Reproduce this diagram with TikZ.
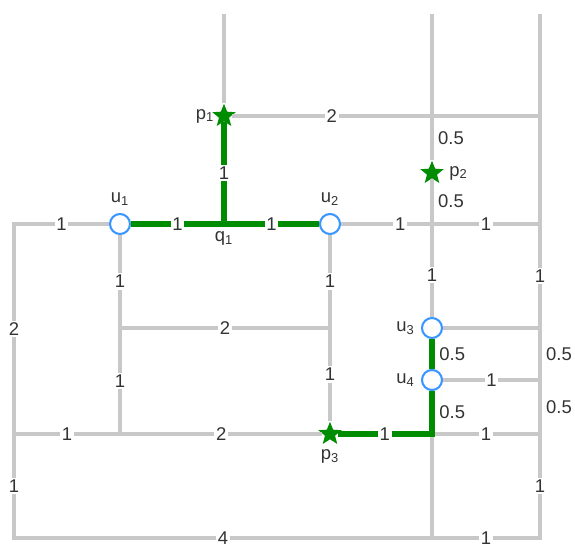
\documentclass[tikz,border=0pt]{standalone}
\usepackage{fontspec}
\setmainfont{Liberation Sans}
\definecolor{edgegray}{RGB}{200,200,200}
\definecolor{treegreen}{RGB}{0,140,0}
\definecolor{termblue}{RGB}{60,150,255}
\usetikzlibrary{shapes.geometric}

\begin{document}
\begin{tikzpicture}[x=0.2mm, y=-0.2mm, font=\fontsize{10.5}{12}\selectfont,
    edge/.style={draw=edgegray, line width=2pt},
    treeedge/.style={draw=treegreen, line width=3.4pt},
    wlabel/.style={midway, fill=white, inner sep=1pt, text=black!80},
    rlabel/.style={midway, right, inner sep=2.5pt, text=black!80},
    terminal/.style={circle, draw=termblue, fill=white, line width=1.2pt,
        minimum size=4mm, inner sep=0pt},
    steiner/.style={star, star points=5, star point ratio=2.3, fill=treegreen,
        minimum size=4.9mm, inner sep=0pt},
    nlabel/.style={text=black!80}]
    \useasboundingbox (0,0) rectangle (575,545);

    % Terminals and Steiner points
    \node[terminal, label={[nlabel, label distance=0.5pt]above:u\textsubscript{1}}] (u1) at (120,224) {};
    \node[terminal, label={[nlabel, label distance=0.5pt]above:u\textsubscript{2}}] (u2) at (330,224) {};
    \node[terminal, label={[nlabel]left:u\textsubscript{3}}] (u3) at (432,328) {};
    \node[terminal, label={[nlabel]left:u\textsubscript{4}}] (u4) at (432,380) {};
    \node[steiner, label={[nlabel, inner sep=1pt]left:p\textsubscript{1}}] (p1) at (224,116) {};
    \node[steiner, label={[nlabel, label distance=2pt]right:p\textsubscript{2}}] (p2) at (432,173) {};
    \node[steiner, label={[nlabel, label distance=2pt]below:p\textsubscript{3}}] (p3) at (330,434) {};
    \coordinate[label={[nlabel, label distance=1pt]below:q\textsubscript{1}}] (q1) at (224,224);

    % Grid junctions
    \coordinate (t1) at (224,14);
    \coordinate (t2) at (432,14);
    \coordinate (t3) at (540,14);
    \coordinate (a2) at (432,116);
    \coordinate (a3) at (540,116);
    \coordinate (b0) at (14,224);
    \coordinate (b3) at (432,224);
    \coordinate (b4) at (540,224);
    \coordinate (c1) at (120,328);
    \coordinate (c2) at (330,328);
    \coordinate (c4) at (540,328);
    \coordinate (d4) at (540,380);
    \coordinate (e0) at (14,434);
    \coordinate (e1) at (120,434);
    \coordinate (e3) at (432,434);
    \coordinate (e4) at (540,434);
    \coordinate (f0) at (14,538);
    \coordinate (f3) at (432,538);
    \coordinate (f4) at (540,538);

    % Unlabelled grid edges
    \foreach \a/\b in {t1/p1, t2/a2, t3/a3, a3/b4, a2/a3, u3/c4, e3/f3}
        \draw[edge] (\a) -- (\b);

    % Weighted grid edges
    \foreach \a/\b/\w in {p1/a2/2, b3/b4/1, b4/c4/1, u1/c1/1, c1/e1/1,
        c1/c2/2, u2/c2/1, c2/p3/1, u4/d4/1, e0/e1/1, e1/p3/2, e3/e4/1}
        \draw[edge] (\a) -- (\b) node[wlabel] {\w};
    \draw[edge] (u2) -- (b3) node[wlabel, pos=0.65] {1};
    \draw[edge] (b3) -- (u3) node[wlabel, pos=0.55] {1};

    % Outer frame
    \draw[edge] (u1) -- (b0) node[wlabel] {1} -- (e0) node[wlabel] {2};
    \draw[edge] (e0) -- (f0) node[wlabel] {1} -- (f3) node[wlabel] {4};
    \draw[edge] (f3) -- (f4) node[wlabel] {1} -- (e4) node[wlabel] {1};

    % Half edges
    \draw[edge] (a2) -- (p2) node[rlabel] {0.5} -- (b3) node[rlabel] {0.5};
    \draw[edge] (c4) -- (d4) node[rlabel] {0.5} -- (e4) node[rlabel] {0.5};

    % Steiner tree
    \draw[treeedge] (p1) -- (q1) node[wlabel] {1};
    \draw[treeedge] (u1) -- (q1) node[wlabel] {1} -- (u2) node[wlabel] {1};
    \draw[treeedge] (p3) -- (e3) node[wlabel] {1} -- (u4) node[rlabel] {0.5};
    \draw[treeedge] (u4) -- (u3) node[rlabel] {0.5};
\end{tikzpicture}
\end{document}
